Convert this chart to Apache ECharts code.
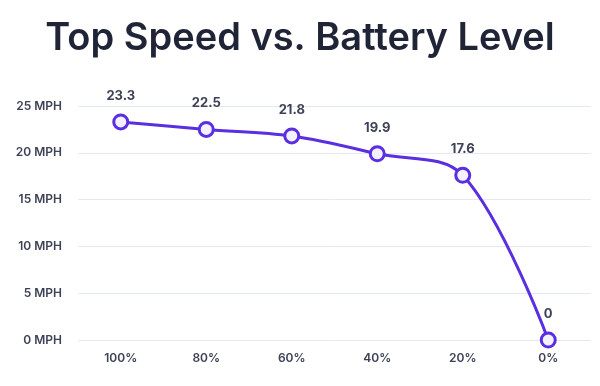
<!DOCTYPE html>
<html>
<head>
<meta charset="utf-8">
<script src="https://cdn.jsdelivr.net/npm/echarts@6/dist/echarts.min.js"></script>
<style>
  html, body { margin: 0; padding: 0; background: #fff; }
  #chart { width: 600px; height: 386px; }
</style>
</head>
<body>
<div id="chart"></div>
<script>
const batteryLevels = ['100%', '80%', '60%', '40%', '20%', '0%']
const topSpeed = [23.3, 22.5, 21.8, 19.9, 17.6, 0]

const chart = echarts.init(document.getElementById('chart'))

const option = {
  backgroundColor: '#fff',
  title: {
    text: 'Top Speed vs. Battery Level',
    left: 'center',
    top: 15,
    textStyle: {
      fontFamily: 'Inter',
      fontSize: 38,
      fontWeight: 600,
      color: '#1f2437'
    }
  },
  grid: { left: 78, right: 9, top: 106, bottom: 46 },
  xAxis: {
    type: 'category',
    data: batteryLevels,
    boundaryGap: true,
    axisLine: { show: false },
    axisTick: { show: false },
    axisLabel: {
      color: '#3d4257',
      fontFamily: 'Inter',
      fontSize: 12,
      fontWeight: 600,
      margin: 12
    }
  },
  yAxis: {
    type: 'value',
    min: 0,
    max: 25,
    interval: 5,
    axisLine: { show: false },
    axisTick: { show: false },
    splitLine: { lineStyle: { color: '#e4eaf3', width: 1 } },
    axisLabel: {
      formatter: v => v + ' MPH',
      color: '#3d4257',
      fontFamily: 'Inter',
      fontSize: 12,
      fontWeight: 600,
      margin: 16
    }
  },
  series: [{
    type: 'line',
    data: topSpeed,
    smooth: 0.35,
    symbol: 'circle',
    symbolSize: 14,
    lineStyle: { color: '#5a2fe0', width: 3 },
    itemStyle: { color: '#f4f1ff', borderColor: '#5a2fe0', borderWidth: 3 },
    label: {
      show: true,
      position: 'top',
      distance: 11,
      color: '#3d4257',
      fontFamily: 'Inter',
      fontSize: 13,
      fontWeight: 'bold'
    }
  }]
}

chart.setOption(option)
</script>
</body>
</html>
